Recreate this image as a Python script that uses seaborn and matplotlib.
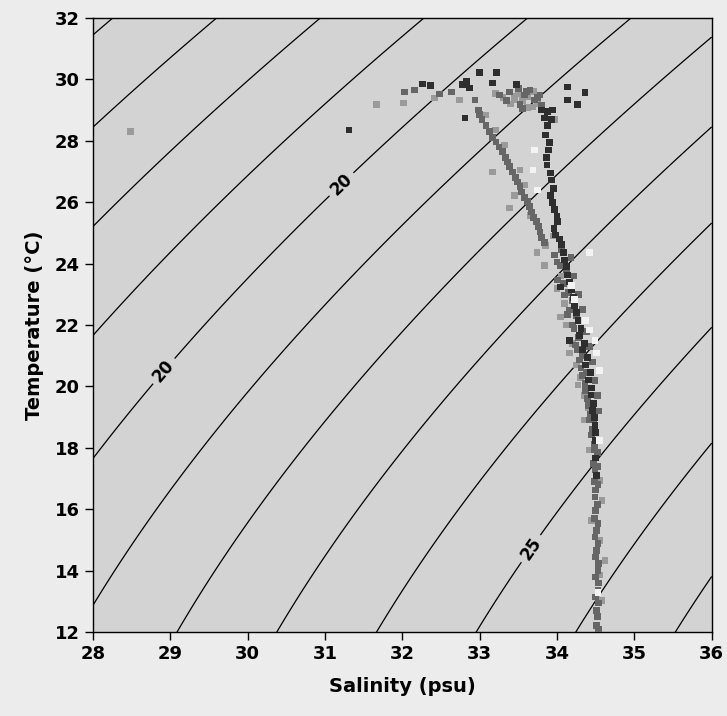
"""
T-S diagram with sigma-t isopycnals
"""
import numpy as np
import pandas as pd
import matplotlib
matplotlib.use("Agg")
import matplotlib.pyplot as plt
import seaborn as sns

# ---- data (salinity psu, temperature degC) ----
dark_s = [32.26, 32.36, 32.78, 32.87, 32.83, 33.00, 33.17, 33.22, 33.48,
          33.80, 33.88, 33.94, 33.84, 33.93, 33.88,
          34.13, 34.13, 34.26, 34.36, 32.81, 31.31,
          33.85, 33.89, 33.87, 33.93, 33.91, 33.97, 34.01, 33.98, 34.06,
          34.10, 34.14, 34.19, 34.23, 34.27, 34.29, 34.33, 34.37, 34.41,
          34.44, 34.46, 34.49, 34.50, 34.50, 34.51, 34.04, 34.16,
          33.90, 33.86, 33.91, 33.95, 33.94, 34.00, 33.96, 34.03, 34.08,
          34.12, 34.16, 34.21, 34.25, 34.31, 34.35, 34.39, 34.43, 34.45,
          34.47, 34.48, 34.50]
dark_t = [29.85, 29.79, 29.82, 29.72, 29.92, 30.21, 29.88, 30.21, 29.82,
          29.00, 28.94, 29.00, 28.74, 28.68, 28.51,
          29.75, 29.33, 29.17, 29.56, 28.74, 28.35,
          28.19, 27.70, 27.21, 26.72, 26.23, 25.75, 25.36, 24.93, 24.61,
          24.12, 23.63, 23.14, 22.65, 22.16, 21.67, 21.19, 20.70, 20.21,
          19.72, 19.23, 18.74, 18.25, 17.67, 17.11, 23.24, 21.51,
          27.95, 27.45, 26.95, 26.45, 26.00, 25.55, 25.15, 24.80, 24.35,
          23.90, 23.40, 22.90, 22.40, 21.90, 21.40, 20.95, 20.45, 19.95,
          19.45, 19.00, 18.50]

mid_s = [32.03, 32.16, 32.48, 32.64, 32.94, 32.98, 33.03, 33.13, 33.21,
         33.29, 33.36, 33.42, 33.49, 33.54, 33.62, 33.67, 33.73, 33.78, 33.84,
         33.26, 33.39, 33.58, 33.71, 33.65, 33.52, 33.78,
         33.97, 34.04, 34.01, 34.10, 34.16, 34.20, 34.24, 34.29, 34.33,
         34.37, 34.40, 34.42, 34.45, 34.48, 34.49, 34.50, 34.50, 34.51,
         34.51, 34.53, 34.53, 34.51, 34.51,
         34.06, 34.00, 34.12, 34.08, 34.15, 34.20, 34.14, 34.25, 34.22,
         34.28, 34.26, 34.33, 34.31, 34.38, 34.36, 34.42, 34.39, 34.44,
         34.43, 34.47, 34.46, 34.50, 34.48, 34.52, 34.47, 34.52, 34.48,
         34.53, 34.49, 34.52, 34.48, 34.53, 34.49, 34.53, 34.50, 34.54,
         34.50, 34.54, 34.50, 34.54, 34.52, 34.54,
         33.00, 33.08, 33.17, 33.25, 33.33, 33.39, 33.46, 33.52, 33.58,
         33.64, 33.70, 33.76, 33.80,
         34.18, 34.22, 34.28, 34.33, 34.38, 34.42, 34.46, 34.49, 34.52,
         34.54, 33.50, 33.60, 33.75, 33.80, 33.55, 33.35]
mid_t = [29.59, 29.65, 29.52, 29.59, 29.33, 29.00, 28.68, 28.29, 27.96,
         27.64, 27.31, 26.98, 26.66, 26.33, 26.01, 25.68, 25.36, 25.03, 24.70,
         29.49, 29.59, 29.49, 29.33, 29.65, 29.17, 29.49,
         24.28, 23.95, 23.47, 22.98, 22.49, 22.00, 21.35, 20.86, 20.37,
         19.88, 19.39, 18.91, 18.42, 17.93, 17.28, 16.63, 15.97, 15.32,
         14.67, 14.02, 13.37, 12.72, 12.23,
         24.45, 24.05, 23.80, 23.35, 23.05, 22.80, 22.35, 22.30, 21.90,
         21.60, 21.20, 21.00, 20.60, 20.45, 20.10, 19.95, 19.60, 19.45,
         19.10, 18.95, 18.60, 18.50, 18.10, 17.85, 17.50, 17.40, 16.90,
         16.80, 16.40, 16.15, 15.70, 15.55, 15.10, 14.90, 14.45, 14.25,
         13.80, 13.60, 13.15, 12.95, 12.50, 12.10,
         28.85, 28.50, 28.10, 27.80, 27.45, 27.15, 26.80, 26.50, 26.15,
         25.85, 25.50, 25.20, 24.85,
         24.20, 23.60, 23.00, 22.50, 21.80, 21.30, 20.80, 20.20, 19.70,
         19.20, 29.70, 29.60, 29.40, 29.15, 29.05, 29.30]

light_s = [31.67, 32.01, 32.42, 32.74, 33.45, 33.62, 33.07, 33.20, 33.32,
           33.52, 33.58, 33.45, 33.65, 33.39, 33.74, 33.84, 34.04, 34.16,
           34.27, 34.35, 34.42, 34.55, 34.58, 34.45, 34.55, 34.62, 34.55,
           34.57, 28.48, 33.16, 33.97,
           33.50, 33.62, 33.70, 33.55, 33.45, 33.75, 33.68, 33.40, 33.30,
           33.20,
           33.85, 33.95, 34.05, 34.00, 34.10, 34.12, 34.20, 34.25, 34.30,
           34.35, 34.40]
light_t = [29.17, 29.23, 29.39, 29.33, 29.33, 29.07, 28.84, 28.35, 27.86,
           27.05, 26.56, 26.23, 25.58, 25.81, 24.35, 23.95, 22.26, 21.09,
           20.05, 18.91, 17.93, 16.95, 16.30, 15.65, 14.99, 14.34, 13.86,
           13.04, 28.29, 26.98, 28.68,
           29.55, 29.45, 29.60, 29.30, 29.45, 29.20, 29.10, 29.20, 29.40,
           29.55,
           24.60, 24.90, 23.60, 23.20, 22.70, 22.00, 21.40, 20.70, 20.30,
           19.70, 19.30]

white_s = [33.71, 33.69, 33.75, 34.37, 34.42, 34.51, 34.49, 34.19, 34.23,
           34.42, 34.55, 34.53, 34.55]
white_t = [27.70, 27.05, 26.40, 22.16, 21.84, 21.09, 21.51, 23.30, 22.82,
           24.35, 20.53, 13.30, 18.25]

sal_ticks = [28, 29, 30, 31, 32, 33, 34, 35, 36]
temp_ticks = [12, 14, 16, 18, 20, 22, 24, 26, 28, 30, 32]
sigma_levels = list(range(14, 29))
label_pos = [(31.22, 26.56), (28.93, 20.47), (33.56, 14.9)]


def sigma_t(S, T):
    """UNESCO 1980 density at surface pressure, minus 1000"""
    rho_w = (999.842594 + 6.793952e-2 * T - 9.095290e-3 * T**2
             + 1.001685e-4 * T**3 - 1.120083e-6 * T**4 + 6.536332e-9 * T**5)
    A = (8.24493e-1 - 4.0899e-3 * T + 7.6438e-5 * T**2
         - 8.2467e-7 * T**3 + 5.3875e-9 * T**4)
    B = -5.72466e-3 + 1.0227e-4 * T - 1.6546e-6 * T**2
    C = 4.8314e-4
    return rho_w + A * S + B * S**1.5 + C * S**2 - 1000.0


sns.set_theme(style="ticks")
plt.rcParams['font.family'] = ['DejaVu Sans']
plt.rcParams['text.color'] = 'black'
plt.rcParams['axes.labelcolor'] = 'black'
plt.rcParams['xtick.color'] = 'black'
plt.rcParams['ytick.color'] = 'black'

fig = plt.figure(figsize=(7.27, 7.16), dpi=100, facecolor='#ececec')
ax = fig.add_axes([0.128, 0.117, 0.851, 0.858])
ax.set_facecolor('#d3d3d3')

# Isopycnals
sg, tg = np.meshgrid(np.linspace(28, 36, 300), np.linspace(12, 32, 300))
cs = ax.contour(sg, tg, sigma_t(sg, tg), levels=sigma_levels,
                colors='black', linewidths=0.9)
ax.clabel(cs, fmt={lv: f"{lv:d}" for lv in sigma_levels}, manual=label_pos,
          inline=True, inline_spacing=6, fontsize=12)
for t in cs.labelTexts:
    t.set_fontweight('bold')
    t.set_color('black')

# Observations, one layer per grey shade
groups = [
    ('light', light_s, light_t, '#9a9a9a'),
    ('mid', mid_s, mid_t, '#666666'),
    ('dark', dark_s, dark_t, '#2e2e2e'),
    ('white', white_s, white_t, '#f3f3f3'),
]
for name, s_vals, t_vals, color in groups:
    df = pd.DataFrame({'Salinity': s_vals, 'Temperature': t_vals})
    sns.scatterplot(data=df, x='Salinity', y='Temperature', ax=ax,
                    marker='s', s=24, color=color, edgecolor='none',
                    linewidth=0, zorder=3)

ax.set_xlim(28, 36)
ax.set_ylim(12, 32)
ax.set_xticks(sal_ticks)
ax.set_yticks(temp_ticks)
ax.tick_params(axis='both', direction='out', length=6, width=1,
               labelsize=13, color='black', labelcolor='black')
for lab in ax.get_xticklabels() + ax.get_yticklabels():
    lab.set_fontweight('bold')
ax.set_xlabel('Salinity (psu)', fontsize=14, fontweight='bold', labelpad=10)
ax.set_ylabel('Temperature (°C)', fontsize=14, fontweight='bold', labelpad=8)
for sp in ax.spines.values():
    sp.set_color('black')
    sp.set_linewidth(1)
    sp.set_visible(True)

fig.savefig('out.png', dpi=100, facecolor=fig.get_facecolor())
